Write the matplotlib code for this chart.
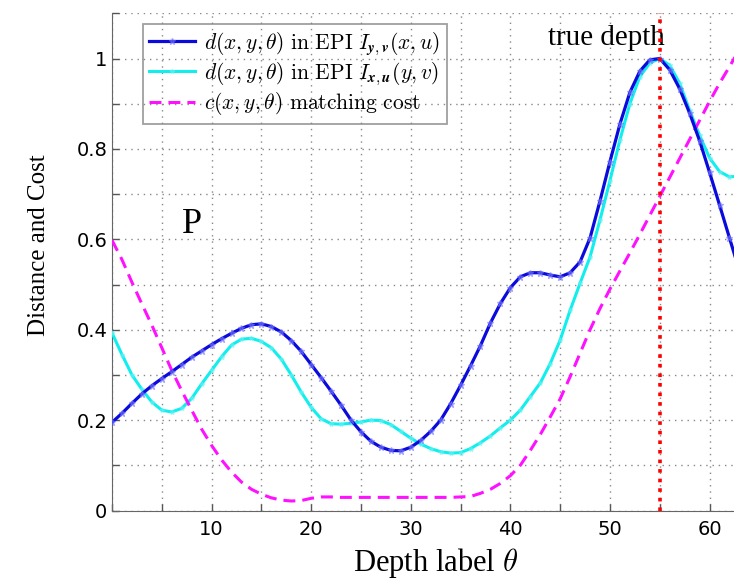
import numpy as np
import matplotlib
matplotlib.use("Agg")
import matplotlib.pyplot as plt
from matplotlib.ticker import MultipleLocator, FixedLocator

plt.rcParams["font.family"] = "DejaVu Sans"
plt.rcParams["mathtext.fontset"] = "cm"

SERIF = "Liberation Serif"

# depth labels 0..64 and the three curves
depth = list(range(65))
dist_yv = [0.195, 0.215, 0.237, 0.258, 0.276, 0.292, 0.307, 0.323, 0.339, 0.353,
           0.367, 0.380, 0.392, 0.403, 0.411, 0.413, 0.407, 0.395, 0.376, 0.352,
           0.323, 0.294, 0.264, 0.233, 0.200, 0.174, 0.153, 0.140, 0.133, 0.132,
           0.140, 0.155, 0.175, 0.200, 0.236, 0.277, 0.320, 0.365, 0.415, 0.458,
           0.493, 0.517, 0.526, 0.526, 0.521, 0.517, 0.526, 0.550, 0.603, 0.685,
           0.772, 0.855, 0.925, 0.972, 0.997, 1.000, 0.975, 0.933, 0.879, 0.818,
           0.748, 0.676, 0.603, 0.530, 0.460]
dist_xu = [0.393, 0.345, 0.300, 0.268, 0.240, 0.222, 0.218, 0.226, 0.248, 0.280,
           0.310, 0.340, 0.366, 0.379, 0.381, 0.374, 0.360, 0.335, 0.300, 0.262,
           0.228, 0.203, 0.192, 0.191, 0.193, 0.196, 0.200, 0.199, 0.190, 0.175,
           0.160, 0.147, 0.137, 0.130, 0.127, 0.128, 0.137, 0.150, 0.165, 0.183,
           0.200, 0.222, 0.252, 0.282, 0.325, 0.377, 0.443, 0.503, 0.561, 0.643,
           0.730, 0.820, 0.900, 0.960, 0.990, 1.000, 0.985, 0.945, 0.885, 0.830,
           0.780, 0.750, 0.738, 0.740, 0.745]
match_cost = [0.598, 0.555, 0.505, 0.457, 0.410, 0.360, 0.310, 0.265, 0.222, 0.180,
              0.144, 0.112, 0.085, 0.063, 0.047, 0.036, 0.028, 0.023, 0.021, 0.022,
              0.027, 0.030, 0.030, 0.029, 0.029, 0.029, 0.029, 0.029, 0.029, 0.029,
              0.029, 0.029, 0.029, 0.029, 0.029, 0.030, 0.031, 0.038, 0.047, 0.060,
              0.077, 0.100, 0.133, 0.168, 0.207, 0.247, 0.296, 0.348, 0.400, 0.447,
              0.490, 0.530, 0.570, 0.611, 0.653, 0.695, 0.737, 0.779, 0.821, 0.863,
              0.905, 0.945, 0.982, 1.020, 1.050]
TRUE_DEPTH = 55

y_ticks = [0, 0.2, 0.4, 0.6, 0.8, 1.0]
y_tick_labels = ["0", "0.2", "0.4", "0.6", "0.8", "1"]
x_ticks = [10, 20, 30, 40, 50, 60]

W, H = 734, 581
fig = plt.figure(figsize=(W / 100, H / 100), dpi=100)
# axes runs past the right edge of the picture, as in the reference crop
ax = fig.add_axes([112 / W, (H - 510.5) / H, (749.4 - 112) / W, (510.5 - 13.3) / H])

ax.plot(depth, dist_yv, color="#0a0adc", lw=2.3, marker="*", ms=4.5,
        mfc=(0.45, 0.45, 1, 0.55), mec=(0.45, 0.45, 1, 0.55),
        label=r"$d(x,y,\theta)\ \mathrm{in\ EPI}\ I_{\boldsymbol{y},\boldsymbol{v}}(x,u)$", zorder=4)
ax.plot(depth, dist_xu, color="#10eeee", lw=2.2, marker="*", ms=3.5,
        mfc=(0.4, 0.95, 0.95, 0.5), mec=(0.4, 0.95, 0.95, 0.5),
        label=r"$d(x,y,\theta)\ \mathrm{in\ EPI}\ I_{\boldsymbol{x},\boldsymbol{u}}(y,v)$", zorder=3)
ax.plot(depth, match_cost, color="#ff10ff", lw=2.2, dashes=(3.9, 2.3),
        label=r"$c(x,y,\theta)$ $\mathrm{matching\ cost}$", zorder=3)
ax.axvline(TRUE_DEPTH, color="red", lw=2.6, ls=":", zorder=5)

ax.set_xlim(0, 64)
ax.set_ylim(0, 1.1)
ax.xaxis.set_major_locator(FixedLocator(x_ticks))
ax.xaxis.set_minor_locator(MultipleLocator(5))
ax.set_yticks(y_ticks)
ax.set_yticklabels(y_tick_labels)
ax.yaxis.set_minor_locator(MultipleLocator(0.1))
ax.grid(which="both", color="#888888", ls=(0, (1, 3.5)), lw=1.0)
ax.set_axisbelow(True)
ax.tick_params(which="both", direction="in", length=5, color="#555555",
               labelsize=14, width=1)
ax.tick_params(axis="x", pad=7)
for s in ("top", "right"):
    ax.spines[s].set_visible(False)
for s in ("left", "bottom"):
    ax.spines[s].set_color("#666666")

ax.set_ylabel("Distance and Cost", family=SERIF, fontsize=18)
ax.yaxis.set_label_coords(-0.097, 0.534)
ax.set_xlabel(r"Depth label $\theta$", family=SERIF, fontsize=22)
ax.xaxis.set_label_coords(0.507, -0.072)

ax.text(43.8, 1.03, "true depth", family=SERIF, fontsize=21, va="baseline")
ax.text(7.0, 0.614, "P", family=SERIF, fontsize=26, va="baseline")

leg = ax.legend(loc="upper left", bbox_to_anchor=(0.0486, 0.9785), borderaxespad=0,
                fontsize=15.5, handlelength=2.1, handletextpad=0.45, labelspacing=0.12,
                borderpad=0.3, fancybox=False, edgecolor="#888888")
leg.get_frame().set_facecolor("none")
leg.get_frame().set_linewidth(1.3)

fig.savefig("out.png", dpi=100)
